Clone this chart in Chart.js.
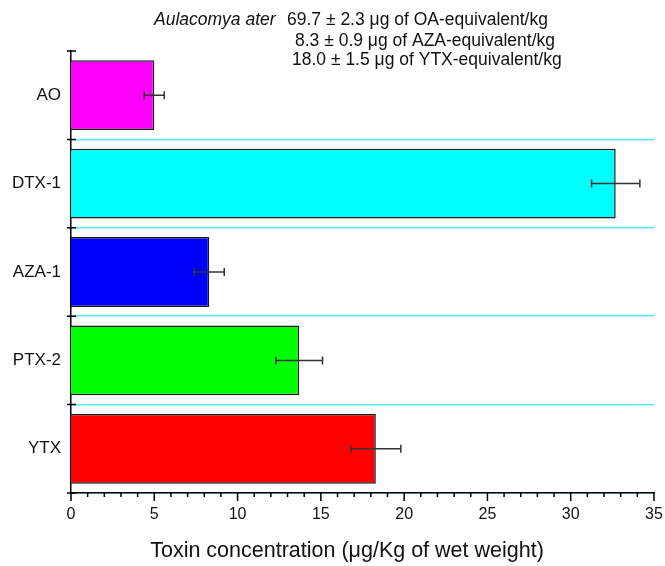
<!DOCTYPE html>
<html>
<head>
<meta charset="utf-8">
<script src="https://cdn.jsdelivr.net/npm/chart.js@4"></script>
<style>
  body { margin: 0; background: #fff; }
  canvas { display: block; }
</style>
</head>
<body>
<canvas id="toxinChart" width="665" height="566"></canvas>
<script>
const toxins = ['AO', 'DTX-1', 'AZA-1', 'PTX-2', 'YTX'];
const concentrations = [5.0, 32.7, 8.3, 13.7, 18.3];
const stdErrors = [0.6, 1.45, 0.9, 1.4, 1.5];
const barColors = ['#ff00ff', '#00ffff', '#0000ff', '#00ff00', '#ff0000'];
const xTicks = [0, 5, 10, 15, 20, 25, 30, 35];
const speciesName = 'Aulacomya ater';
const equivalents = [
    '69.7 ± 2.3 μg of OA-equivalent/kg',
    '8.3 ± 0.9 μg of AZA-equivalent/kg',
    '18.0 ± 1.5 μg of YTX-equivalent/kg'
];
const xTitle = 'Toxin concentration (μg/Kg of wet weight)';

const FONT = "'Liberation Sans', Arial, sans-serif";

// error bars, axis tick marks and the free-standing text
const decorations = {
    id: 'decorations',
    afterDatasetsDraw(chart) {
        const { ctx, scales: { x } } = chart;
        const meta = chart.getDatasetMeta(0);
        ctx.save();
        ctx.strokeStyle = '#333';
        ctx.lineWidth = 1.5;
        ctx.beginPath();
        meta.data.forEach((bar, i) => {
            const lo = x.getPixelForValue(concentrations[i] - stdErrors[i]);
            const hi = x.getPixelForValue(concentrations[i] + stdErrors[i]);
            const cy = bar.y;
            ctx.moveTo(lo, cy); ctx.lineTo(hi, cy);
            ctx.moveTo(lo, cy - 4); ctx.lineTo(lo, cy + 4);
            ctx.moveTo(hi, cy - 4); ctx.lineTo(hi, cy + 4);
        });
        ctx.stroke();
        ctx.restore();
    },
    afterDraw(chart) {
        const { ctx, scales: { x, y }, chartArea } = chart;
        ctx.save();
        ctx.strokeStyle = '#000';
        ctx.lineWidth = 1.5;
        ctx.beginPath();
        for (let v = x.min; v <= x.max; v++) {
            const px = x.getPixelForValue(v);
            const len = v % 5 === 0 ? 8 : 4;
            ctx.moveTo(px, chartArea.bottom);
            ctx.lineTo(px, chartArea.bottom + len);
        }
        for (let i = 0; i <= toxins.length; i++) {
            const py = y.getPixelForValue(i - 0.5);
            ctx.moveTo(chartArea.left - 4, py);
            ctx.lineTo(chartArea.left + 5, py);
        }
        ctx.stroke();

        ctx.fillStyle = '#111';
        ctx.textBaseline = 'alphabetic';
        ctx.textAlign = 'left';
        ctx.font = `italic 17.5px ${FONT}`;
        ctx.fillText(speciesName, 154, 25);
        ctx.font = `17.5px ${FONT}`;
        const starts = [287, 295, 292];
        const baselines = [25, 45.5, 65];
        equivalents.forEach((line, i) => ctx.fillText(line, starts[i], baselines[i]));

        ctx.font = `21.5px ${FONT}`;
        ctx.textAlign = 'center';
        ctx.fillText(xTitle, 347, 557);
        ctx.restore();
    }
};

new Chart(document.getElementById('toxinChart'), {
    type: 'bar',
    data: {
        labels: toxins,
        datasets: [{
            data: concentrations,
            backgroundColor: barColors,
            borderColor: '#1a1a1a',
            borderWidth: 1.5,
            barPercentage: 0.79,
            categoryPercentage: 1
        }]
    },
    options: {
        indexAxis: 'y',
        responsive: false,
        animation: false,
        devicePixelRatio: 1,
        layout: { padding: { top: 51, right: 11, left: 0, bottom: 0 } },
        plugins: { legend: { display: false }, tooltip: { enabled: false } },
        scales: {
            x: {
                min: 0,
                max: 35,
                afterBuildTicks: (scale) => { scale.ticks = xTicks.map(v => ({ value: v })); },
                afterFit: (scale) => {
                    scale.height = 73;
                    scale.paddingLeft = 0;
                    scale.paddingRight = 0;
                },
                grid: { display: false, drawTicks: false },
                border: { color: '#000', width: 1.5 },
                ticks: { color: '#111', padding: 12, font: { family: FONT, size: 16 } }
            },
            y: {
                afterFit: (scale) => { scale.width = 71; },
                grid: {
                    offset: true,
                    drawTicks: false,
                    lineWidth: 1.5,
                    color: (c) => (c.index === 0 || c.index === toxins.length) ? 'rgba(0,0,0,0)' : '#4ff2f2'
                },
                border: { color: '#000', width: 1.5 },
                ticks: { color: '#111', padding: 10, font: { family: FONT, size: 17 } }
            }
        }
    },
    plugins: [decorations]
});
</script>
</body>
</html>
